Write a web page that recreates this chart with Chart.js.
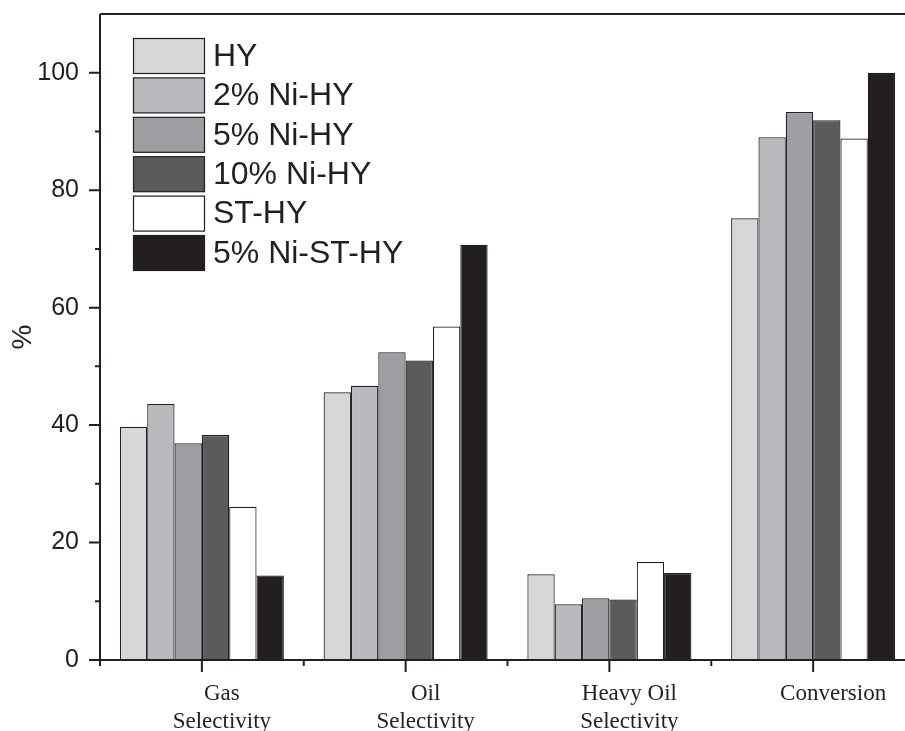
<!DOCTYPE html>
<html>
<head>
<meta charset="utf-8">
<script src="https://cdn.jsdelivr.net/npm/chart.js@4.4.1/dist/chart.umd.min.js"></script>
<style>
  html, body { margin: 0; padding: 0; background: #fff; overflow: hidden; }
  #wrap { width: 930px; height: 731px; }
</style>
</head>
<body>
<div id="wrap"><canvas id="chart" width="930" height="731"></canvas></div>
<script>
// --- data ---
const categories = [['Gas', 'Selectivity'], ['Oil', 'Selectivity'], ['Heavy Oil', 'Selectivity'], ['Conversion']]
const seriesNames = ['HY', '2% Ni-HY', '5% Ni-HY', '10% Ni-HY', 'ST-HY', '5% Ni-ST-HY']
const hy = [39.7, 45.6, 14.6, 75.2]
const ni2 = [43.6, 46.7, 9.5, 89.0]
const ni5 = [36.9, 52.4, 10.5, 93.3]
const ni10 = [38.3, 51.0, 10.3, 91.9]
const st = [26.1, 56.8, 16.7, 88.8]
const niSt = [14.4, 70.7, 14.8, 100.0]
const yTicks = [0, 20, 40, 60, 80, 100]

const fills = ['#d6d7d9', '#b9babd', '#9d9ea1', '#5b5b5d', '#ffffff', '#231f20']
const ink = '#231f20'
const sans = "'Liberation Sans', Arial, sans-serif"
const serif = "'Liberation Serif', 'Times New Roman', serif"

const series = [hy, ni2, ni5, ni10, st, niSt]

// --- axis frame + tick marks ---
const frame = {
  id: 'frame',
  afterDatasetsDraw(chart) {
    const { ctx, chartArea: a, scales: { x, y } } = chart
    ctx.save()
    ctx.strokeStyle = ink
    ctx.lineWidth = 2
    ctx.beginPath()
    ctx.moveTo(a.left, a.top); ctx.lineTo(a.left, a.bottom)
    ctx.moveTo(a.left, a.top); ctx.lineTo(a.right, a.top)
    ctx.moveTo(a.left, a.bottom); ctx.lineTo(a.right, a.bottom)
    // y ticks, major + minor
    for (const v of yTicks) {
      const py = y.getPixelForValue(v)
      ctx.moveTo(a.left - 11, py); ctx.lineTo(a.left, py)
      if (v + 10 < y.max) {
        const pm = y.getPixelForValue(v + 10)
        ctx.moveTo(a.left - 5, pm); ctx.lineTo(a.left, pm)
      }
    }
    // x ticks: centres long, boundaries short
    const half = (x.getPixelForValue(1) - x.getPixelForValue(0)) / 2
    categories.forEach((c, i) => {
      const px = x.getPixelForValue(i)
      ctx.moveTo(px, a.bottom); ctx.lineTo(px, a.bottom + 12)
      ctx.moveTo(px - half, a.bottom); ctx.lineTo(px - half, a.bottom + 6)
      ctx.moveTo(px + half, a.bottom); ctx.lineTo(px + half, a.bottom + 6)
    })
    ctx.stroke()
    ctx.restore()
  },
}

// --- legend drawn inside the plot ---
const boxLegend = {
  id: 'boxLegend',
  afterDraw(chart) {
    const { ctx } = chart
    ctx.save()
    ctx.font = `32px ${sans}`
    ctx.textBaseline = 'middle'
    chart.data.datasets.forEach((ds, i) => {
      const top = 38.5 + i * 39.4
      ctx.fillStyle = ds.backgroundColor
      ctx.fillRect(133.5, top, 71, 35)
      ctx.strokeStyle = ink
      ctx.lineWidth = 1.2
      ctx.strokeRect(133.5, top, 71, 35)
      ctx.fillStyle = ink
      ctx.fillText(ds.label, 213, top + 18.5)
    })
    ctx.restore()
  },
}

new Chart(document.getElementById('chart'), {
  type: 'bar',
  data: {
    labels: categories,
    datasets: seriesNames.map((name, i) => ({
      label: name,
      data: series[i],
      backgroundColor: fills[i],
      borderColor: ink,
      borderWidth: 1.2,
      categoryPercentage: 0.805,
      barPercentage: 1,
    })),
  },
  options: {
    responsive: false,
    animation: false,
    devicePixelRatio: 1,
    layout: { padding: { top: 14, right: 15, left: 0, bottom: 0 } },
    plugins: { legend: { display: false }, tooltip: { enabled: false } },
    scales: {
      x: {
        grid: { display: false, drawTicks: false },
        border: { display: false },
        ticks: {
          color: ink,
          font: { family: serif, size: 23, lineHeight: 1.22 },
          padding: 20,
          labelOffset: 20,
          maxRotation: 0,
          autoSkip: false,
        },
        afterFit(scale) { scale.height = 71 },
      },
      y: {
        min: 0,
        max: 110,
        // tick marks are drawn by the frame plugin; tickLength only spaces the labels
        grid: { display: false, drawTicks: true, tickLength: 21 },
        border: { display: false },
        ticks: {
          color: ink,
          font: { family: sans, size: 25, lineHeight: 0.2 },
          padding: 0,
        },
        afterBuildTicks(scale) { scale.ticks = yTicks.map(v => ({ value: v })) },
        title: {
          display: true,
          text: '%',
          color: ink,
          font: { family: sans, size: 28 },
          padding: { top: 6, bottom: 0 },
        },
        afterFit(scale) { scale.width = 100 },
      },
    },
  },
  plugins: [frame, boxLegend],
})
</script>
</body>
</html>
